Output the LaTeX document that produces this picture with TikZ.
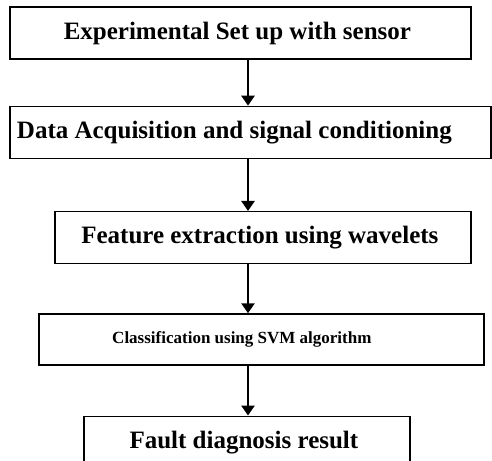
\documentclass[tikz,border=0pt]{standalone}
\usepackage{fontspec}
\setmainfont{Liberation Serif}
\usepackage{tikz}
\usetikzlibrary{shapes,positioning,arrows.meta}

\begin{document}
\begin{tikzpicture}[font=\fontsize{25}{29}\selectfont\bfseries,line width=1.3pt,
    flow/.style={-{Triangle[width=13pt,length=10pt]},line width=2.8pt}]

\useasboundingbox (0,0) rectangle (492pt,-460pt);

\node[draw,
    minimum width=461pt,
    minimum height=52pt,
    align=center
] (block1) at (240.5pt,-33pt) { Experimental Set up with sensor };

\node[draw,
    below=46pt of block1,
    xshift=10pt,
    minimum width=481pt,
    minimum height=52pt,
    align=center
] (block2) { \hspace*{-26pt}Data Acquisition and signal conditioning };

\node[draw,
    below=52pt of block2,
    xshift=12.5pt,
    minimum width=416pt,
    minimum height=52pt,
    align=center
] (block3) { Feature extraction using wavelets };

\node[draw,
    below=49pt of block3,
    xshift=-1.5pt,
    minimum width=445pt,
    minimum height=51pt,
    align=center,
    font=\fontsize{17}{20}\selectfont\bfseries
] (block4) { \hspace*{-35pt}Classification using SVM algorithm };

\node[draw,
    below=50pt of block4,
    xshift=-14.5pt,
    minimum width=326pt,
    minimum height=52pt,
    align=center
] (block5) { Fault diagnosis result };

% arrows run down one vertical line
\coordinate (spine) at (248pt,0);

\draw[flow] (block1.south -| spine) -- (block2.north -| spine);
\draw[flow] (block2.south -| spine) -- (block3.north -| spine);
\draw[flow] (block3.south -| spine) -- (block4.north -| spine);
\draw[flow] (block4.south -| spine) -- (block5.north -| spine);

\end{tikzpicture}
\end{document}
